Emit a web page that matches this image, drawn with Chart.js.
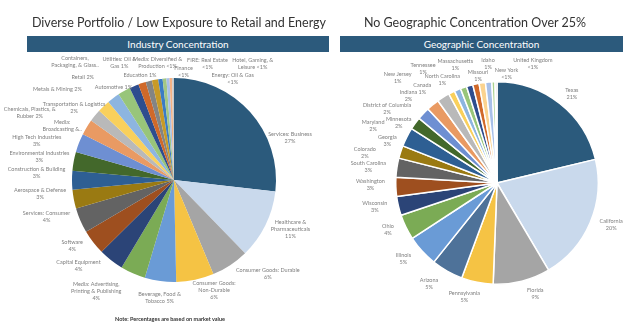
<!DOCTYPE html>
<html>
<head>
<meta charset="utf-8">
<script src="https://cdn.jsdelivr.net/npm/chart.js@4"></script>
<style>
  body { margin: 0; background: #fff; font-family: Lato, "Open Sans", sans-serif; }
  #wrap { position: relative; width: 640px; height: 332px; overflow: hidden; }
  canvas { position: absolute; top: 0; }
  .title { position: absolute; top: 15px; font-size: 12.5px; color: #333; white-space: nowrap; transform: translateX(-50%); }
  .bar { position: absolute; top: 36px; height: 16px; background: #2c5a7c; color: #fff; font-size: 10px; line-height: 16px; text-align: center; }
  .note { position: absolute; top: 316px; left: 170px; transform: translateX(-50%); font-size: 5.5px; font-weight: bold; color: #333; white-space: nowrap; }
</style>
</head>
<body>
<div id="wrap">
  <canvas id="industry_chart" width="330" height="332" style="left:0"></canvas>
  <canvas id="geo_chart" width="310" height="332" style="left:330px"></canvas>
  <div class="title" style="left:179px">Diverse Portfolio / Low Exposure to Retail and Energy</div>
  <div class="title" style="left:475px">No Geographic Concentration Over 25%</div>
  <div class="bar" style="left:27px; width:302px">Industry Concentration</div>
  <div class="bar" style="left:340px; width:283px">Geographic Concentration</div>
  <div class="note">Note: Percentages are based on market value</div>
</div>
<script>
"use strict";

// "%" marks where the percentage goes; labels ending in ".." were cut off in the original
var industryNames = [
    "Services: Business\n%", "Healthcare &\nPharmaceuticals\n%", "Consumer Goods: Durable\n%",
    "Consumer Goods:\nNon-Durable\n%", "Beverage, Food &\nTobacco %", "Media: Advertising,\nPrinting & Publishing\n%",
    "Capital Equipment\n%", "Software\n%", "Services: Consumer\n%", "Aerospace & Defense\n%",
    "Construction & Building\n%", "Environmental Industries\n%", "High Tech Industries\n%",
    "Media:\nBroadcasting &..", "Chemicals, Plastics, &\nRubber %", "Transportation & Logistics\n%",
    "Metals & Mining %", "Retail %", "Containers,\nPackaging, & Glass..", "Automotive %",
    "Utilities: Oil &\nGas %", "Education %", "Media: Diversified &\nProduction %", "Finance\n%",
    "FIRE: Real Estate\n%", "Hotel, Gaming, &\nLeisure %", "Energy: Oil & Gas\n%"
];
var industryValues = [27, 11, 6, 6, 5, 4, 4, 4, 4, 3, 3, 3, 3, 2.5, 2, 2, 2, 2, 1.5, 1.2, 1, 1, 0.7, 0.6, 0.5, 0.4, 0.3];

var geoNames = [
    "Texas", "California", "Florida", "Pennsylvania", "Arizona", "Illinois", "Ohio", "Wisconsin",
    "Washington", "South Carolina", "Colorado", "Georgia", "Minnesota", "Maryland",
    "District of Columbia", "Indiana", "Canada", "North Carolina", "Tennessee", "New Jersey",
    "Massachusetts", "Missouri", "Idaho", "New York", "United Kingdom"
];
var geoValues = [21, 20, 9, 5, 5, 5, 4, 3, 3, 3, 2, 3, 2, 2, 2, 2, 1, 1, 1, 1, 1, 1, 1, 0.5, 0.3];

var palette = [
    "#2b5a7c", "#c9d9ec", "#a5a5a5", "#f5c344", "#6a9bd6", "#7bab55", "#2b4477", "#9e4f1f",
    "#636363", "#9a7a12", "#2e5f93", "#43682b", "#6e8fd2", "#e99a63", "#b9b9b9", "#f9d05c",
    "#8db5e0", "#98c57a", "#2e4d8e", "#d0692a", "#848484", "#c89a27", "#3b7cc4", "#a2c785",
    "#a8c0e8", "#f4b183", "#c9c9c9"
];
var geoColors = [
    "#2b5a7c", "#c9d9ec", "#a5a5a5", "#f5c344", "#4e7299", "#6a9bd6", "#7bab55", "#2b4477",
    "#9e4f1f", "#636363", "#9a7a12", "#2e5f93", "#43682b", "#6e8fd2", "#e99a63", "#b9b9b9",
    "#f9d05c", "#8db5e0", "#98c57a", "#2e4d8e", "#d0692a", "#fbd38f", "#a8c0e8", "#a9d18e", "#c9c9c9"
];

// label layout: [angle from 12 o'clock in degrees, distance as multiple of radius]
var industryLabelPlace = [
    [70, 1.21], [113, 1.24], [135, 1.30], [160, 1.15], [187, 1.16], [215, 1.33], [228, 1.26],
    [237, 1.19], [254, 1.30], [264, 1.32], [273, 1.35], [280, 1.34], [286, 1.40], [296, 1.22],
    [295, 1.56], [306, 1.21], [308, 1.45], [318.5, 1.35], [320, 1.51], [327, 1.09], [335, 1.27],
    [342, 1.08], [352, 1.16], [5, 1.07], [16, 1.19], [34, 1.38], [30, 1.15]
];
var geoLabelPlace = [
    [40, 1.15], [110, 1.20], [161, 1.16], [196, 1.17], [214, 1.20], [231, 1.19], [247, 1.17],
    [259, 1.23], [269, 1.25], [277, 1.28], [283, 1.34], [291, 1.16], [301.6, 1.14], [295, 1.35],
    [304, 1.31], [314.7, 1.23], [321.7, 1.19], [332, 1.15], [327, 1.34], [316.7, 1.43],
    [340.6, 1.24], [350, 1.08], [355.7, 1.18], [5, 1.08], [16.7, 1.23]
];

Chart.defaults.font.family = "Lato";

function pctText(v) {
    return v < 1 ? "<1%" : Math.round(v) + "%";
}

function labelText(name, v) {
    if (name.indexOf("%") < 0) {
        if (name.slice(-2) == "..") return name;
        return name + "\n" + pctText(v);
    }
    return name.replace("%", pctText(v));
}

/* draws the data labels around the pie, Excel style, no leader lines */
var outsideLabels = {
    id: "outsideLabels",
    afterDatasetsDraw: function(chart, args, opts) {
        var ctx = chart.ctx;
        var arcs = chart.getDatasetMeta(0).data;
        var values = chart.data.datasets[0].data;
        ctx.save();
        ctx.font = "5.5px Lato";
        ctx.fillStyle = "#7f7f7f";
        ctx.textAlign = "center";
        ctx.textBaseline = "middle";
        arcs.forEach(function(arc, i) {
            var p = opts.place[i];
            var a = p[0] * Math.PI / 180;
            var r = arc.outerRadius * p[1];
            var x = arc.x + Math.sin(a) * r;
            var y = arc.y - Math.cos(a) * r;
            var lines = labelText(chart.data.labels[i], values[i]).split("\n");
            lines.forEach(function(ln, k) {
                ctx.fillText(ln, x, y + (k - (lines.length - 1) / 2) * 7);
            });
        });
        ctx.restore();
    }
};

function pieOptions(padding, place) {
    return {
        responsive: false,
        animation: false,
        layout: { padding: padding },
        plugins: {
            legend: { display: false },
            tooltip: { enabled: false },
            outsideLabels: { place: place }
        }
    };
}

new Chart(document.getElementById("industry_chart"), {
    type: "pie",
    data: {
        labels: industryNames,
        datasets: [{
            data: industryValues,
            backgroundColor: palette,
            borderWidth: 0
        }]
    },
    options: pieOptions({ left: 72, right: 54, top: 78, bottom: 50 }, industryLabelPlace),
    plugins: [outsideLabels]
});

new Chart(document.getElementById("geo_chart"), {
    type: "pie",
    data: {
        labels: geoNames,
        datasets: [{
            data: geoValues,
            backgroundColor: geoColors,
            borderColor: "#ffffff",
            borderWidth: 1.5
        }]
    },
    options: pieOptions({ left: 65, right: 41, top: 81, bottom: 47 }, geoLabelPlace),
    plugins: [outsideLabels]
});
</script>
</body>
</html>
